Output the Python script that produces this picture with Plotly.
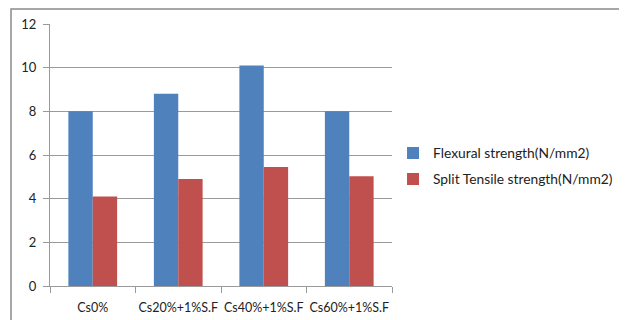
import plotly.graph_objects as go

categories = ["Cs0%", "Cs20%+1%S.F", "Cs40%+1%S.F", "Cs60%+1%S.F"]
flexural = [8.0, 8.8, 10.1, 8.0]
split_tensile = [4.1, 4.9, 5.45, 5.03]
series_names = ["Flexural strength(N/mm2)", "Split Tensile strength(N/mm2)"]
y_ticks = [0, 2, 4, 6, 8, 10, 12]

FONT = "Lato"
GRID = "#9a9a9a"
TXT = "#222222"

fig = go.Figure()
fig.add_trace(go.Bar(x=categories, y=flexural, name=series_names[0], legendgroup="a",
                     marker=dict(color="#4F81BD", line=dict(width=0))))
fig.add_trace(go.Bar(x=categories, y=split_tensile, name=series_names[1], legendgroup="b",
                     marker=dict(color="#C0504D", line=dict(width=0))))

fig.update_layout(
    width=627, height=320,
    margin=dict(l=42, r=243, t=16, b=42, pad=0, autoexpand=False),
    paper_bgcolor="white", plot_bgcolor="white",
    barmode="group", bargap=0.43, bargroupgap=0,
    font=dict(family=FONT, size=12, color=TXT),
    legend=dict(x=1.003, y=0.458, xanchor="left", yanchor="middle",
                font=dict(family=FONT, size=13.8, color=TXT),
                itemwidth=30, tracegroupgap=5, bgcolor="rgba(0,0,0,0)"),
    showlegend=True,
)
fig.update_yaxes(range=[0, 12], tickvals=y_ticks, showgrid=True, gridcolor=GRID,
                 gridwidth=1, showline=True, linecolor=GRID, linewidth=1,
                 ticks="outside", ticklen=6, tickcolor=GRID, zeroline=False,
                 ticklabelstandoff=4, automargin=False,
                 tickfont=dict(family=FONT, size=13, color=TXT))
fig.update_xaxes(showline=True, linecolor=GRID, linewidth=1, tickson="boundaries",
                 ticks="outside", ticklen=6, tickcolor=GRID, showgrid=False,
                 tickangle=0, automargin=False, ticklabelstandoff=10,
                 tickfont=dict(family=FONT, size=12.5, color=TXT))

fig.add_shape(type="rect", xref="paper", yref="paper",
              x0=-0.114, x1=1.675, y0=-0.3, y1=1.057,
              line=dict(color="#8a8a8a", width=1.5), fillcolor="rgba(0,0,0,0)",
              layer="below")

fig.write_html("out.html")
